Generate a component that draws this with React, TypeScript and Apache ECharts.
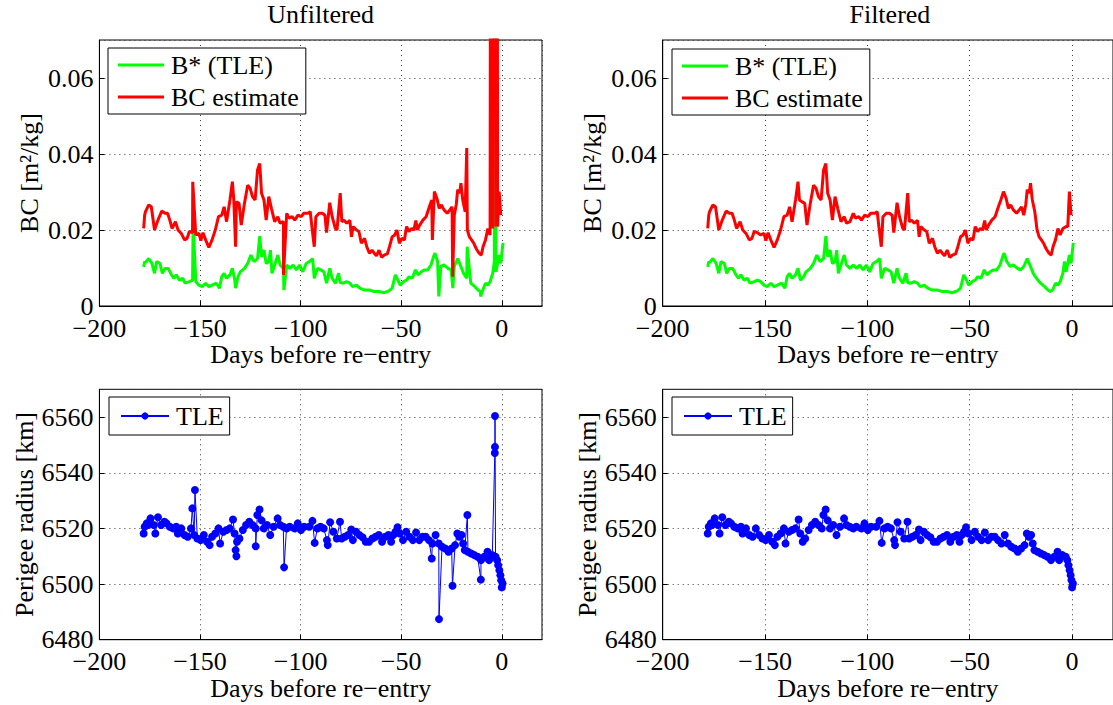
import React, { useEffect, useRef } from "react";
import * as echarts from "echarts";

const FONT = "Liberation Serif, Times New Roman, serif";
const FS = 26;

// ---------- Ballistic coefficient (filtered) ----------
const bcDays = [
  -178, -177.5, -177.1, -175.5, -174.2, -172.6, -170.9, -169.0, -167.4, -166.1,
  -165.0, -163.9, -162.2, -160.9, -159.3, -157.7, -156.4, -155.3, -153.7, -152.1,
  -150.5, -149.6, -148.5, -147.2, -145.6, -144.0, -142.4, -140.8, -139.2, -138.0,
  -136.8, -135.1, -133.9, -133.2, -131.9, -130.6, -129.5, -127.9, -126.3, -125.1,
  -123.9, -122.6, -121.4, -120.3, -119.4, -118.2, -117.1, -115.8, -114.5, -112.9,
  -111.3, -110.2, -108.5, -106.9, -105.8, -104.2, -102.9, -101.3, -99.7, -98.4,
  -96.4, -95.2, -94.0, -93.2, -92.4, -90.8, -89.2, -87.9, -87.1, -85.5,
  -84.3, -82.7, -81.9, -80.3, -79.5, -78.4, -77.1, -75.5, -74.7, -73.9,
  -72.2, -71.0, -69.8, -68.2, -67.1, -65.8, -64.5, -63.4, -62.3, -61.0,
  -59.7, -58.5, -56.9, -55.8, -54.5, -53.2, -52.1, -50.9, -49.7, -48.4,
  -47.3, -46.1, -44.8, -43.7, -42.7, -41.9, -40.8, -39.2, -37.6, -36.0,
  -34.8, -33.5, -32.2, -31.1, -30.0, -28.7, -27.1, -25.8, -24.7, -23.6,
  -22.6, -21.9, -20.9, -20.3, -19.4, -18.2, -17.1, -16.1, -15.0, -13.9,
  -12.6, -11.3, -10.2, -9.3, -8.1, -6.9, -5.8, -4.5, -2.9, -2.1,
  -1.3, -0.5,
];
const bcFiltered = [
  0.0204, 0.0239, 0.0248, 0.0266, 0.0261, 0.0200, 0.0226, 0.0250, 0.0244, 0.0244,
  0.0226, 0.0204, 0.0222, 0.0200, 0.0191, 0.0174, 0.0178, 0.0196, 0.0193, 0.0187,
  0.0191, 0.0172, 0.0193, 0.0174, 0.0154, 0.0174, 0.0200, 0.0235, 0.0239, 0.0261,
  0.0222, 0.0279, 0.0327, 0.0279, 0.0274, 0.0270, 0.0213, 0.0270, 0.0318, 0.0310,
  0.0288, 0.0279, 0.0358, 0.0375, 0.0297, 0.0279, 0.0226, 0.0288, 0.0257, 0.0222,
  0.0235, 0.0218, 0.0222, 0.0244, 0.0231, 0.0235, 0.0226, 0.0239, 0.0235, 0.0244,
  0.0244, 0.0248, 0.0191, 0.0156, 0.0235, 0.0244, 0.0244, 0.0239, 0.0193, 0.0272,
  0.0235, 0.0204, 0.0200, 0.0297, 0.0222, 0.0226, 0.0218, 0.0225, 0.0182, 0.0209,
  0.0200, 0.0196, 0.0165, 0.0178, 0.0156, 0.0139, 0.0147, 0.0139, 0.0132, 0.0147,
  0.0128, 0.0134, 0.0137, 0.0156, 0.0182, 0.0187, 0.0200, 0.0165, 0.0178, 0.0174,
  0.0209, 0.0196, 0.0204, 0.0200, 0.0225, 0.0200, 0.0213, 0.0226, 0.0235, 0.0261,
  0.0279, 0.0301, 0.0283, 0.0257, 0.0266, 0.0253, 0.0244, 0.0253, 0.0261, 0.0239,
  0.0268, 0.0306, 0.0297, 0.0323, 0.0279, 0.0248, 0.0200, 0.0182, 0.0174, 0.0165,
  0.0150, 0.0139, 0.0134, 0.0156, 0.0174, 0.0204, 0.0187, 0.0204, 0.0209, 0.0209,
  0.0301, 0.0239,
];
// outliers only present in the unfiltered estimate
const bcOutlierDays = [-153.6, -132.3, -108.5, -34.5, -24.4, -17.4, -4.9, -3.7, -2.5];
const bcOutliers = [0.0327, 0.0156, 0.0082, 0.0174, 0.0077, 0.0416, 0.5, 0.5, 0.5];

// ---------- B* from TLE (filtered) ----------
const bstarDays = [
  -178, -177.5, -177.1, -175.5, -173.9, -172.6, -171.5, -169.9, -168.7, -167.4,
  -165.8, -164.2, -162.9, -161.8, -160.2, -158.6, -157.4, -155.3, -153.7, -152.1,
  -150.5, -148.9, -147.2, -145.6, -144.0, -141.9, -140.3, -139.2, -138.0, -136.8,
  -135.1, -133.9, -132.7, -131.1, -130.0, -127.9, -126.3, -124.7, -123.1, -121.4,
  -120.3, -119.4, -118.2, -117.1, -115.8, -115.0, -114.2, -112.9, -111.3, -110.2,
  -108.5, -106.9, -105.3, -103.7, -102.1, -100.5, -98.9, -97.2, -95.6, -94.0,
  -93.2, -91.6, -90.0, -88.4, -87.1, -85.5, -84.3, -82.7, -81.1, -80.3,
  -78.7, -77.1, -75.5, -74.2, -72.2, -70.6, -68.2, -65.8, -63.4, -61.0,
  -58.5, -56.1, -54.5, -52.9, -51.6, -50.5, -48.9, -47.3, -46.1, -44.5,
  -42.9, -41.6, -40.0, -38.4, -36.8, -35.2, -33.9, -33.2, -31.9, -30.3,
  -28.7, -26.7, -25.2, -23.6, -21.9, -20.6, -19.0, -17.4, -15.4, -13.4,
  -11.8, -10.6, -9.3, -8.1, -6.9, -5.8, -4.5, -3.7, -2.9, -2.1,
  -1.3, -0.5, 0.6,
];
const bstarFiltered = [
  0.0103, 0.0117, 0.0114, 0.0125, 0.0112, 0.0086, 0.0117, 0.0112, 0.0086, 0.0099,
  0.0099, 0.0082, 0.0073, 0.0082, 0.0068, 0.0073, 0.0060, 0.0064, 0.0068, 0.0064,
  0.0055, 0.0051, 0.0060, 0.0051, 0.0055, 0.0060, 0.0047, 0.0077, 0.0086, 0.0073,
  0.0082, 0.0099, 0.0068, 0.0077, 0.0090, 0.0099, 0.0112, 0.0134, 0.0117, 0.0125,
  0.0184, 0.0130, 0.0147, 0.0112, 0.0117, 0.0147, 0.0086, 0.0108, 0.0134, 0.0108,
  0.0099, 0.0108, 0.0099, 0.0108, 0.0095, 0.0108, 0.0090, 0.0112, 0.0117, 0.0125,
  0.0073, 0.0099, 0.0095, 0.0090, 0.0060, 0.0099, 0.0073, 0.0060, 0.0086, 0.0062,
  0.0060, 0.0064, 0.0060, 0.0051, 0.0055, 0.0047, 0.0042, 0.0042, 0.0038, 0.0038,
  0.0035, 0.0040, 0.0047, 0.0082, 0.0068, 0.0055, 0.0064, 0.0068, 0.0077, 0.0073,
  0.0095, 0.0082, 0.0090, 0.0095, 0.0095, 0.0108, 0.0130, 0.0139, 0.0117, 0.0104,
  0.0108, 0.0099, 0.0095, 0.0104, 0.0125, 0.0108, 0.0086, 0.0073, 0.0060, 0.0051,
  0.0042, 0.0038, 0.0044, 0.0060, 0.0055, 0.0064, 0.0086, 0.0117, 0.0090, 0.0112,
  0.0134, 0.0112, 0.0166,
];
const bstarOutlierDays = [-153.4, -132.3, -108.3, -31.3, -24.3, -17.2, -10.5, -3.4];
const bstarOutliers = [0.0218, 0.0047, 0.0042, 0.0025, 0.0047, 0.0156, 0.0025, 0.5];

// ---------- Perigee radius [km] (filtered) ----------
const perigeeDays = [
  -178.0, -177.5, -176.5, -175.9, -174.6, -173.0, -172.2, -170.9, -169.3, -167.7,
  -166.6, -165.0, -163.4, -161.8, -161.0, -159.3, -157.7, -156.1, -154.5, -152.9,
  -151.3, -149.7, -148.1, -146.5, -145.2, -144.0, -142.4, -140.8, -140.0, -138.4,
  -136.8, -135.2, -133.6, -132.8, -131.6, -130.4, -128.7, -127.1, -125.5, -123.9,
  -122.3, -121.5, -120.4, -119.4, -118.3, -116.7, -115.1, -113.4, -111.4, -110.2,
  -108.6, -107.0, -105.4, -103.0, -101.4, -99.8, -98.2, -95.7, -94.1, -93.0,
  -91.7, -90.1, -88.5, -86.9, -86.5, -85.3, -83.7, -82.0, -80.4, -79.6,
  -78.0, -76.4, -74.8, -74.0, -72.4, -70.8, -69.2, -67.6, -66.0, -64.3,
  -62.7, -61.1, -59.5, -57.9, -56.3, -55.0, -53.9, -52.8, -51.8, -50.7,
  -49.1, -47.5, -45.9, -44.2, -42.6, -41.0, -39.4, -37.8, -36.2, -34.5,
  -32.9, -31.3, -29.7, -28.1, -26.5, -24.9, -23.2, -22.1, -21.1, -20.0,
  -19.2, -18.4, -16.8, -15.2, -13.6, -12.0, -10.3, -8.7, -7.1, -6.3,
  -4.7, -3.1, -2.3, -1.8, -1.2, -0.7, -0.3, 0.0, 0.4,
];
const perigeeFiltered = [
  6518.2, 6520.6, 6521.8, 6521.2, 6523.6, 6521.2, 6518.2, 6524.0, 6521.2, 6522.4,
  6521.8, 6520.6, 6520.0, 6520.6, 6518.2, 6520.0, 6517.6, 6517.0, 6520.0, 6517.6,
  6516.4, 6515.8, 6517.6, 6515.2, 6514.0, 6517.0, 6518.2, 6520.0, 6514.6, 6518.8,
  6519.4, 6520.0, 6523.2, 6518.2, 6515.2, 6516.4, 6519.4, 6521.2, 6522.4, 6521.2,
  6520.0, 6524.8, 6526.8, 6522.9, 6520.0, 6521.2, 6517.6, 6520.6, 6523.6, 6521.2,
  6520.6, 6520.0, 6520.6, 6520.0, 6521.8, 6519.4, 6520.6, 6520.6, 6522.7, 6514.8,
  6520.0, 6520.6, 6520.0, 6515.8, 6514.0, 6522.2, 6518.8, 6516.4, 6522.4, 6516.4,
  6517.0, 6517.6, 6519.6, 6515.8, 6518.8, 6517.6, 6516.8, 6515.2, 6515.2, 6516.4,
  6517.0, 6517.6, 6515.2, 6517.0, 6517.6, 6515.2, 6517.6, 6518.8, 6520.4, 6518.2,
  6515.8, 6518.8, 6517.0, 6515.8, 6518.5, 6515.8, 6517.0, 6517.0, 6515.8, 6514.6,
  6517.6, 6514.6, 6513.4, 6512.8, 6511.6, 6512.8, 6514.0, 6518.2, 6517.0, 6517.6,
  6514.6, 6512.2, 6511.6, 6511.0, 6510.4, 6509.8, 6508.6, 6509.8, 6511.6, 6508.6,
  6510.4, 6509.8, 6508.6, 6506.8, 6505.0, 6503.2, 6501.4, 6498.8, 6500.2,
];
const perigeeOutlierDays = [
  -153.8, -152.5, -132.3, -131.9, -122.3, -108.2, -34.8, -31.2, -24.5, -17.1, -10.4, -3.45, -3.4, -3.35,
];
const perigeeOutliers = [
  6527.2, 6533.8, 6512.2, 6510.0, 6513.6, 6506.0, 6509.2, 6487.4, 6499.4, 6524.8, 6501.6, 6547.1, 6549.3, 6560.4,
];

const panelTitles = ["Unfiltered", "Filtered"];
const xName = "Days before re\u2212entry";
const bcName = "BC [m\u00b2/kg]";
const perigeeName = "Perigee radius [km]";

const pairs = (d: number[], v: number[]) => d.map((x, i) => [x, v[i]]);
const merged = (d1: number[], v1: number[], d2: number[], v2: number[]) =>
  [...pairs(d1, v1), ...pairs(d2, v2)].sort((a, b) => a[0] - b[0]);

const minusFmt = (v: number) => (v < 0 ? "\u2212" + Math.abs(v) : String(v));

const grids = [
  { left: 99.4, top: 40, width: 442.6, height: 266 },
  { left: 662.7, top: 40, width: 454.3, height: 266 },
  { left: 99.4, top: 389.3, width: 442.6, height: 250.4 },
  { left: 662.7, top: 389.3, width: 454.3, height: 250.4 },
];

const txt = { fontFamily: FONT, fontSize: FS, color: "#000" };
const gridLine = { show: true, lineStyle: { color: "#3a3a3a", type: [1, 4], width: 1 } };

function makeOption() {
  const xAxis = grids.map((_, i) => ({
    type: "value",
    gridIndex: i,
    min: -200,
    max: 20,
    interval: 50,
    axisLine: { show: true, onZero: false, lineStyle: { color: "#000", width: 1 } },
    axisTick: { show: true, inside: true, length: 5, lineStyle: { color: "#000" } },
    axisLabel: { ...txt, margin: 13, lineHeight: 18, showMaxLabel: false, formatter: minusFmt },
    splitLine: gridLine,
    name: xName,
    nameLocation: "middle",
    nameGap: i < 2 ? 33 : 34,
    nameTextStyle: { ...txt },
  }));
  const yAxis = grids.map((_, i) => {
    const top = i < 2;
    return {
      type: "value",
      gridIndex: i,
      min: top ? 0 : 6480,
      max: top ? 0.07 : 6570,
      interval: top ? 0.02 : 20,
      axisLine: { show: true, onZero: false, lineStyle: { color: "#000", width: 1 } },
      axisTick: { show: true, inside: true, length: 5, lineStyle: { color: "#000" } },
      axisLabel: {
        ...txt,
        margin: 6,
        lineHeight: 18,
        showMaxLabel: false,
        formatter: top ? (v: number) => (v === 0 ? "0" : v.toFixed(2)) : (v: number) => String(v),
      },
      splitLine: gridLine,
      name: top ? bcName : perigeeName,
      nameLocation: "middle",
      nameGap: 57,
      nameTextStyle: { ...txt },
    };
  });

  const bcLine = (name: string, data: number[][], color: string, idx: number) => ({
    type: "line",
    name,
    xAxisIndex: idx,
    yAxisIndex: idx,
    data,
    color,
    symbol: "none",
    lineStyle: { color, width: 3 },
    clip: true,
    z: name === "BC estimate" ? 3 : 2,
  });
  const tleLine = (data: number[][], idx: number) => ({
    type: "line",
    name: "TLE",
    xAxisIndex: idx,
    yAxisIndex: idx,
    data,
    color: "#0000ff",
    symbol: "circle",
    symbolSize: 8,
    showSymbol: true,
    itemStyle: { color: "#0000ff" },
    lineStyle: { color: "#0000ff", width: 1 },
    clip: true,
  });

  const series = [
    bcLine("B* (TLE)", merged(bstarDays, bstarFiltered, bstarOutlierDays, bstarOutliers), "#00ff00", 0),
    bcLine("BC estimate", merged(bcDays, bcFiltered, bcOutlierDays, bcOutliers), "#ff0000", 0),
    bcLine("B* (TLE)", pairs(bstarDays, bstarFiltered), "#00ff00", 1),
    bcLine("BC estimate", pairs(bcDays, bcFiltered), "#ff0000", 1),
    tleLine(merged(perigeeDays, perigeeFiltered, perigeeOutlierDays, perigeeOutliers), 2),
    tleLine(pairs(perigeeDays, perigeeFiltered), 3),
  ];

  const legendBase = {
    orient: "vertical",
    borderColor: "#000",
    borderWidth: 1,
    borderRadius: 0,
    backgroundColor: "#fff",
    selectedMode: false,
    textStyle: { ...txt, padding: [0, 0, 0, 2] },
  };
  const bcLegend = (left: number, top: number) => ({
    ...legendBase,
    left,
    top,
    data: [
      { name: "B* (TLE)", icon: "rect" },
      { name: "BC estimate", icon: "rect" },
    ],
    itemWidth: 46,
    itemHeight: 3,
    itemGap: 6,
    padding: [4, 7, 4, 10],
  });
  const tleLegend = (left: number, top: number) => ({
    ...legendBase,
    left,
    top,
    data: [{ name: "TLE" }],
    itemWidth: 48,
    itemHeight: 9,
    padding: [6, 6, 6, 11],
  });

  return {
    animation: false,
    backgroundColor: "#fff",
    title: [
      { text: panelTitles[0], left: 320.7, top: 1, textAlign: "center", padding: 0, textStyle: { ...txt, fontWeight: "normal" } },
      { text: panelTitles[1], left: 889.9, top: 1, textAlign: "center", padding: 0, textStyle: { ...txt, fontWeight: "normal" } },
    ],
    grid: grids.map((g) => ({ ...g, show: true, borderColor: "#000", borderWidth: 1, backgroundColor: "transparent" })),
    xAxis,
    yAxis,
    legend: [bcLegend(108, 48), bcLegend(672, 49), tleLegend(109, 397), tleLegend(672, 397)],
    series,
  };
}

export default function App() {
  const ref = useRef<HTMLDivElement>(null);
  useEffect(() => {
    if (!ref.current) return;
    const chart = echarts.init(ref.current, undefined, { renderer: "svg" });
    chart.setOption(makeOption() as any);
    return () => chart.dispose();
  }, []);
  return (
    <div
      ref={ref}
      style={{ position: "absolute", left: 0, top: 0, width: 1113, height: 705, background: "#fff" }}
    />
  );
}
